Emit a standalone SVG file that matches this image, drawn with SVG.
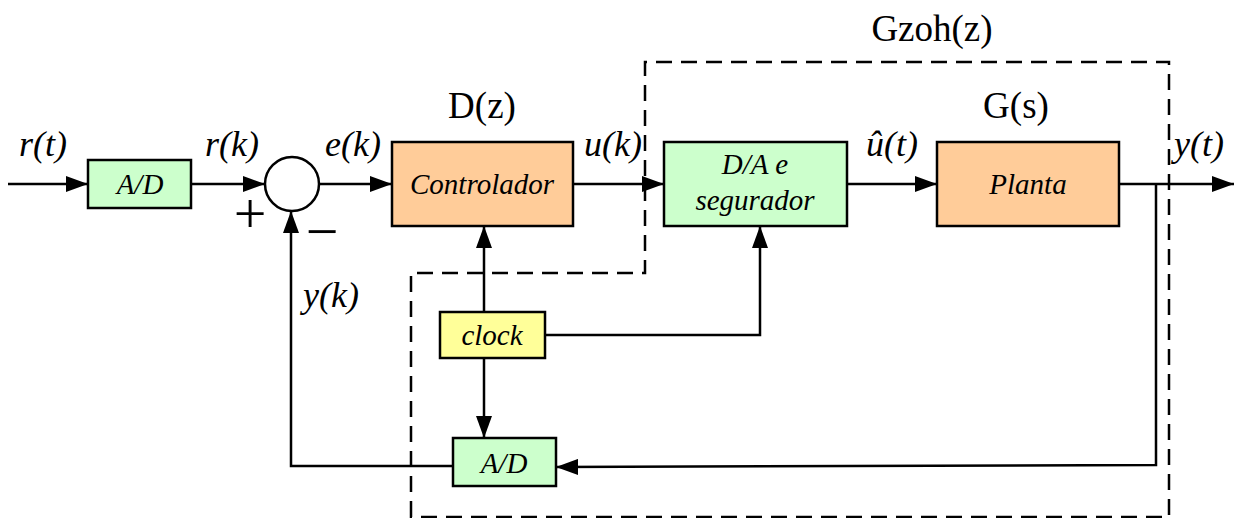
<svg xmlns="http://www.w3.org/2000/svg" width="1236" height="518" viewBox="0 0 1236 518">
  <style>
    .box { stroke: #000; stroke-width: 2.5; }
    .orange { fill: #FFCC99; }
    .green { fill: #CCFFCC; }
    .yellow { fill: #FFFF99; }
    .wire { fill: none; stroke: #000; stroke-width: 2.5; }
    .dash { fill: none; stroke: #000; stroke-width: 2.5; stroke-dasharray: 16 9; }
    .lbl { font-family: "Liberation Serif", "Times New Roman", serif; font-style: italic; font-size: 36px; fill: #000; }
    .ttl { font-family: "Liberation Serif", "Times New Roman", serif; font-size: 37px; fill: #000; }
    .sign { font-family: "Liberation Serif", "Times New Roman", serif; font-size: 58px; fill: #000; text-anchor: middle; }
    .in { font-family: "Liberation Serif", "Times New Roman", serif; font-style: italic; font-size: 29px; fill: #000; text-anchor: middle; }
  </style>
  <defs>
    <marker id="arrow" viewBox="0 0 22 16" refX="22" refY="8" markerWidth="22" markerHeight="16" markerUnits="userSpaceOnUse" orient="auto">
      <path d="M0,0 L22,8 L0,16 Z" fill="#000"/>
    </marker>
  </defs>

  <!-- Gzoh(z) boundary -->
  <g id="gzoh-boundary">
    <path class="dash" d="M411,517 L411,273 L645,273 L645,62 L1169,62 L1169,517 Z"/>
    <text class="ttl" x="932" y="41" text-anchor="middle">Gzoh(z)</text>
  </g>

  <!-- connectors -->
  <g id="connectors">
    <path class="wire" d="M8,184 L88,184" marker-end="url(#arrow)"/>
    <path class="wire" d="M191,184 L265,184" marker-end="url(#arrow)"/>
    <path class="wire" d="M319,184 L392,184" marker-end="url(#arrow)"/>
    <path class="wire" d="M573,184 L664,184" marker-end="url(#arrow)"/>
    <path class="wire" d="M847,184 L937,184" marker-end="url(#arrow)"/>
    <path class="wire" d="M1119,184 L1234,184" marker-end="url(#arrow)"/>
    <path class="wire" d="M1156,184 L1156,465 L556,467" marker-end="url(#arrow)"/>
    <path class="wire" d="M453,466 L291,466 L291,211" marker-end="url(#arrow)"/>
    <path class="wire" d="M484,312 L484,226" marker-end="url(#arrow)"/>
    <path class="wire" d="M484,358 L484,438" marker-end="url(#arrow)"/>
    <path class="wire" d="M545,335 L760,335 L760,226" marker-end="url(#arrow)"/>
  </g>

  <!-- signal labels -->
  <g id="labels">
    <text class="lbl" x="19" y="156">r(t)</text>
    <text class="lbl" x="205" y="156">r(k)</text>
    <text class="lbl" x="325" y="156">e(k)</text>
    <text class="lbl" x="584" y="156">u(k)</text>
    <text class="lbl" x="866" y="156">û(t)</text>
    <text class="lbl" x="1174" y="156">y(t)</text>
    <text class="lbl" x="303" y="307">y(k)</text>
    <text class="sign" x="250" y="233">+</text>
    <text class="sign" x="322" y="251">−</text>
    <text class="ttl" x="482" y="118" text-anchor="middle">D(z)</text>
    <text class="ttl" x="1016" y="118" text-anchor="middle">G(s)</text>
  </g>

  <g id="ad-in">
    <rect class="box green" x="88" y="160" width="103" height="48"/>
    <text class="in" x="140" y="194">A/D</text>
  </g>

  <g id="summer">
    <circle cx="292" cy="184" r="27" fill="#fff" stroke="#000" stroke-width="2.5"/>
  </g>

  <g id="controlador">
    <rect class="box orange" x="392" y="142" width="181" height="84"/>
    <text class="in" x="482" y="194">Controlador</text>
  </g>

  <g id="da-segurador">
    <rect class="box green" x="664" y="142" width="183" height="84"/>
    <text class="in" x="755" y="174">D/A e</text>
    <text class="in" x="755" y="210">segurador</text>
  </g>

  <g id="planta">
    <rect class="box orange" x="937" y="142" width="182" height="84"/>
    <text class="in" x="1028" y="194">Planta</text>
  </g>

  <g id="clock">
    <rect class="box yellow" x="440" y="312" width="105" height="46"/>
    <text class="in" x="492" y="345">clock</text>
  </g>

  <g id="ad-out">
    <rect class="box green" x="453" y="438" width="103" height="48"/>
    <text class="in" x="504" y="473">A/D</text>
  </g>
</svg>
